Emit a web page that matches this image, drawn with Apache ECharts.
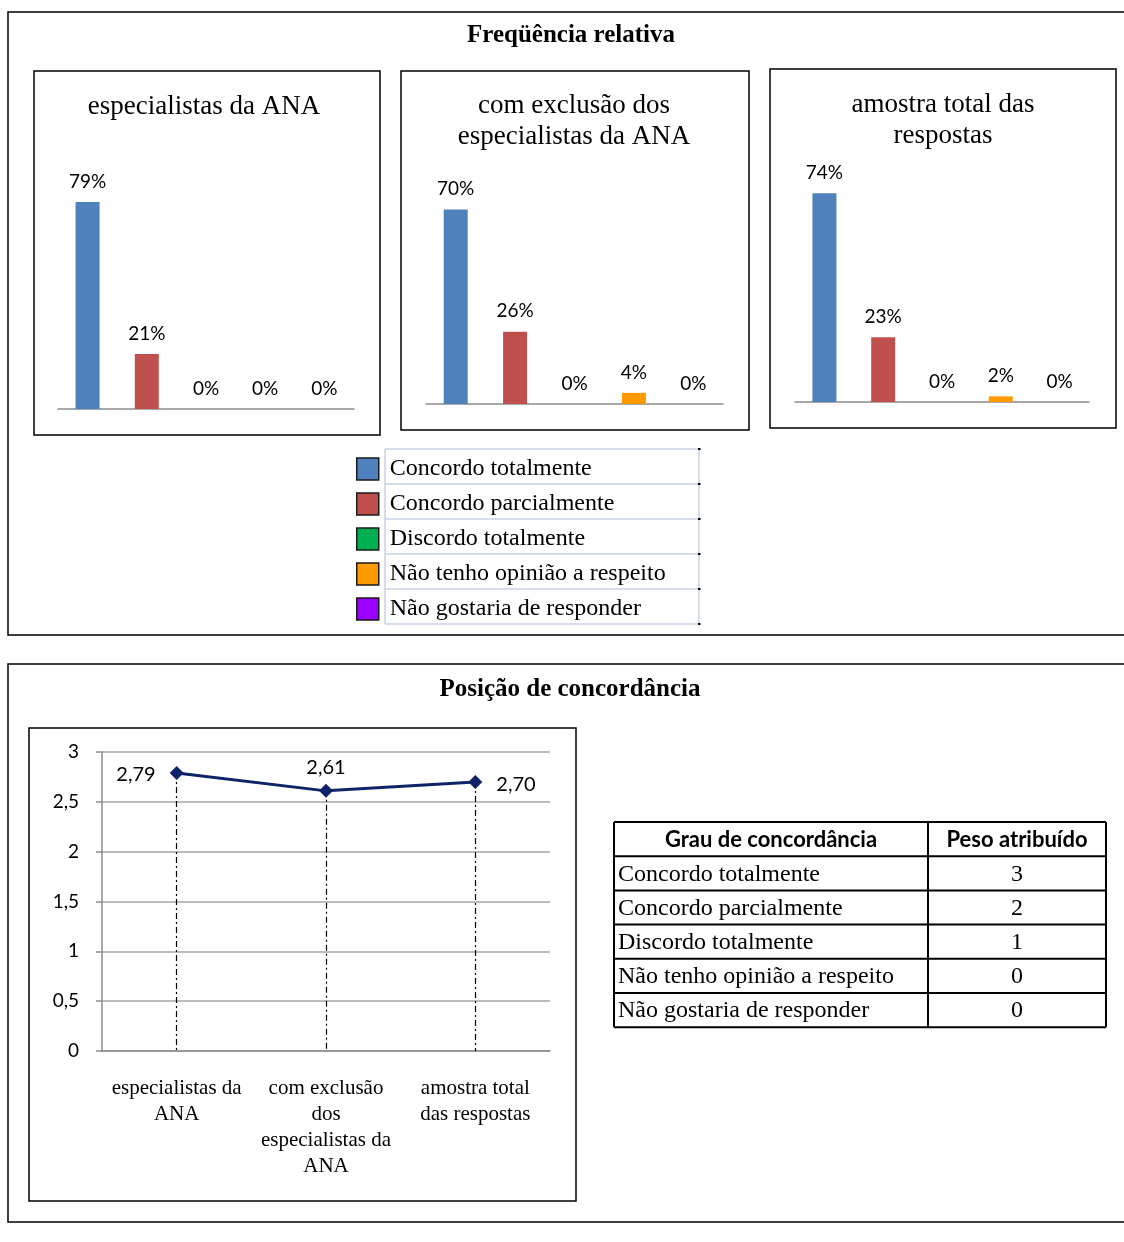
<!DOCTYPE html>
<html>
<head>
<meta charset="utf-8">
<script src="https://cdn.jsdelivr.net/npm/echarts@6/dist/echarts.min.js"></script>
<style>
  html, body { margin: 0; padding: 0; background: #ffffff; }
  #chart { width: 1124px; height: 1242px; }
</style>
</head>
<body>
<div id="chart"></div>
<script>
// Response categories (legend order)
const categories = [
  'Concordo totalmente',
  'Concordo parcialmente',
  'Discordo totalmente',
  'Não tenho opinião a respeito',
  'Não gostaria de responder'
];

// Respondent groups
const groups = [
  'especialistas da ANA',
  'com exclusão dos especialistas da ANA',
  'amostra total das respostas'
];
const panelTitles = [
  'especialistas da ANA',
  'com exclusão dos\nespecialistas da ANA',
  'amostra total das\nrespostas'
];
const groupAxisLabels = [
  'especialistas da\nANA',
  'com exclusão\ndos\nespecialistas da\nANA',
  'amostra total\ndas respostas'
];

// Relative frequency (%) per group
const shareEspecialistas = [79, 21, 0, 0, 0];
const shareSemEspecialistas = [70, 26, 0, 4, 0];
const shareAmostraTotal = [74, 23, 0, 2, 0];

// Mean agreement position per group
const mediaPosicao = [2.79, 2.61, 2.70];

// Weight table
const tableHeader = ['Grau de concordância', 'Peso atribuído'];
const pesos = [3, 2, 1, 0, 0];

// Value axis of the mean-position chart
const posMin = 0, posMax = 3, posStep = 0.5;

// ---------------------------------------------------------------
const SERIF = '"Liberation Serif", "Times New Roman", serif';
const SANS = 'Lato, "Liberation Sans", sans-serif';
const colors = ['#4f81bd', '#c0504d', '#00b050', '#ff9900', '#9900ff'];
const shares = [shareEspecialistas, shareSemEspecialistas, shareAmostraTotal];

const panels = [
  { grid: { left: 58, top: 147, width: 296, height: 262 }, frame: [34, 71, 346, 364], cx: 204, ty: 91 },
  { grid: { left: 426, top: 126, width: 297, height: 278 }, frame: [401, 71, 348, 359], cx: 574, ty: 90 },
  { grid: { left: 795, top: 120, width: 294, height: 282 }, frame: [770, 69, 346, 359], cx: 943, ty: 89 }
];
const lineGrid = { left: 102, top: 752, width: 448, height: 299 };

const grids = panels.map(p => p.grid).concat([lineGrid]);

const xAxes = panels.map((p, i) => ({
  type: 'category',
  gridIndex: i,
  data: categories,
  axisLine: { lineStyle: { color: '#8c8c8c', width: 1.5 } },
  axisTick: { show: false },
  axisLabel: { show: false }
}));
const yAxes = panels.map((p, i) => ({
  type: 'value',
  gridIndex: i,
  min: 0,
  max: 100,
  show: false
}));

xAxes.push({
  type: 'category',
  gridIndex: 3,
  data: groupAxisLabels,
  boundaryGap: true,
  axisLine: { lineStyle: { color: '#8c8c8c', width: 1.5 } },
  axisTick: { show: false },
  axisLabel: {
    interval: 0,
    margin: 24,
    color: '#000',
    fontFamily: SERIF,
    fontSize: 21,
    lineHeight: 26
  }
});
yAxes.push({
  type: 'value',
  gridIndex: 3,
  min: posMin,
  max: posMax,
  interval: posStep,
  axisLine: { show: true, lineStyle: { color: '#8c8c8c', width: 1.5 } },
  axisTick: { show: true, length: 6, lineStyle: { color: '#8c8c8c', width: 1.5 } },
  splitLine: { lineStyle: { color: '#a6a6a6', width: 1.5 } },
  axisLabel: {
    margin: 23,
    color: '#000',
    fontFamily: SANS,
    fontSize: 19,
    formatter: v => String(v).replace('.', ',')
  }
});

// One bar series per category in each panel, overlapping at the category slot
const series = [];
shares.forEach((vals, p) => {
  categories.forEach((name, c) => {
    series.push({
      type: 'bar',
      name: name,
      xAxisIndex: p,
      yAxisIndex: p,
      barWidth: 24,
      barGap: '-100%',
      itemStyle: { color: colors[c] },
      label: {
        show: true,
        position: 'top',
        distance: 11,
        color: '#000',
        fontFamily: SANS,
        fontSize: 19,
        formatter: '{c}%'
      },
      data: vals.map((v, i) => (i === c ? v : '-'))
    });
  });
});

// Mean position line with drop lines to the category axis
const labelSides = ['left', 'top', 'right'];
series.push({
  type: 'line',
  name: 'Posição de concordância',
  xAxisIndex: 3,
  yAxisIndex: 3,
  symbol: 'diamond',
  symbolSize: 14,
  lineStyle: { color: '#0f2466', width: 3 },
  itemStyle: { color: '#0f2466' },
  label: {
    show: true,
    color: '#000',
    fontFamily: SANS,
    fontSize: 20,
    formatter: d => d.value.toFixed(2).replace('.', ',')
  },
  data: mediaPosicao.map((v, i) => ({
    value: v,
    label: {
      position: labelSides[i],
      distance: labelSides[i] === 'top' ? 8 : 14,
      offset: labelSides[i] === 'right' ? [0, 3] : [0, 2]
    }
  })),
  markLine: {
    silent: true,
    symbol: ['none', 'none'],
    label: { show: false },
    lineStyle: { color: '#000', width: 1.2, type: [6, 3, 2, 3] },
    data: mediaPosicao.map((v, i) => [{ coord: [i, v] }, { coord: [i, posMin] }])
  },
  z: 5
});

// ---------------------------------------------------------------
// Frames, titles, legend grid and weight table
const graphics = [];
const frame = (x, y, w, h, lw) => graphics.push({
  type: 'rect', silent: true, z: -1,
  shape: { x, y, width: w, height: h },
  style: { fill: null, stroke: '#000', lineWidth: lw }
});
const line = (x1, y1, x2, y2, color, lw, z) => graphics.push({
  type: 'line', silent: true, z: z || 0,
  shape: { x1, y1, x2, y2 },
  style: { stroke: color, lineWidth: lw }
});
const text = (t, x, y, opt) => graphics.push({
  type: 'text', silent: true,
  x, y,
  style: Object.assign({
    text: t, fill: '#000', fontFamily: SERIF, fontSize: 24,
    align: 'left', verticalAlign: 'middle'
  }, opt || {})
});

// outer boxes
frame(8, 12, 1140, 623, 1.5);
frame(8, 664, 1140, 558, 1.5);
text('Freqüência relativa', 571, 36, { align: 'center', fontWeight: 'bold', fontSize: 25 });
text('Posição de concordância', 570, 690, { align: 'center', fontWeight: 'bold', fontSize: 25 });

// panel boxes and titles
panels.forEach((p, i) => {
  frame(p.frame[0], p.frame[1], p.frame[2], p.frame[3], 1.5);
  text(panelTitles[i], p.cx, p.ty, {
    align: 'center', verticalAlign: 'top', fontSize: 27, lineHeight: 31
  });
});
frame(29, 728, 547, 473, 1.5);

// legend cell lines
const legTop = 449, legRow = 35, legL = 385, legR = 699;
for (let r = 0; r <= categories.length; r++) {
  line(legL, legTop + r * legRow, legR, legTop + r * legRow, '#c9d3e6', 1.5);
  line(legR - 1, legTop + r * legRow, legR + 1.5, legTop + r * legRow, '#000', 2, 1);
}
line(legL, legTop, legL, legTop + categories.length * legRow, '#c9d3e6', 1.5);
line(legR, legTop, legR, legTop + categories.length * legRow, '#c9d3e6', 1.5);

// weight table
const tL = 614, tM = 928, tR = 1106, tTop = 822, tRowH = 34.2;
const nRows = pesos.length + 1;
for (let r = 0; r <= nRows; r++) {
  line(tL, tTop + r * tRowH, tR, tTop + r * tRowH, '#000', 2);
}
[tL, tM, tR].forEach(x => line(x, tTop, x, tTop + nRows * tRowH, '#000', 2));
text(tableHeader[0], (tL + tM) / 2, tTop + tRowH / 2 + 1, {
  align: 'center', fontFamily: SANS, fontWeight: 'bold', fontSize: 22
});
text(tableHeader[1], (tM + tR) / 2, tTop + tRowH / 2 + 1, {
  align: 'center', fontFamily: SANS, fontWeight: 'bold', fontSize: 22
});
categories.forEach((c, i) => {
  const cy = tTop + (i + 1.5) * tRowH + 1;
  text(c, tL + 4, cy, { fontSize: 24 });
  text(String(pesos[i]), (tM + tR) / 2, cy, { align: 'center', fontSize: 24 });
});

// ---------------------------------------------------------------
const chart = echarts.init(document.getElementById('chart'), null, { renderer: 'canvas' });
chart.setOption({
  backgroundColor: '#ffffff',
  animation: false,
  grid: grids,
  xAxis: xAxes,
  yAxis: yAxes,
  legend: {
    data: categories,
    orient: 'vertical',
    left: 356,
    top: 457,
    padding: 0,
    itemWidth: 22,
    itemHeight: 22,
    itemGap: 11,
    icon: 'rect',
    selectedMode: false,
    itemStyle: { borderColor: '#1a1a1a', borderWidth: 1.5 },
    textStyle: {
      color: '#000',
      fontFamily: SERIF,
      fontSize: 24,
      lineHeight: 22,
      padding: [0, 0, 0, 6]
    }
  },
  graphic: graphics,
  series: series
});
</script>
</body>
</html>
